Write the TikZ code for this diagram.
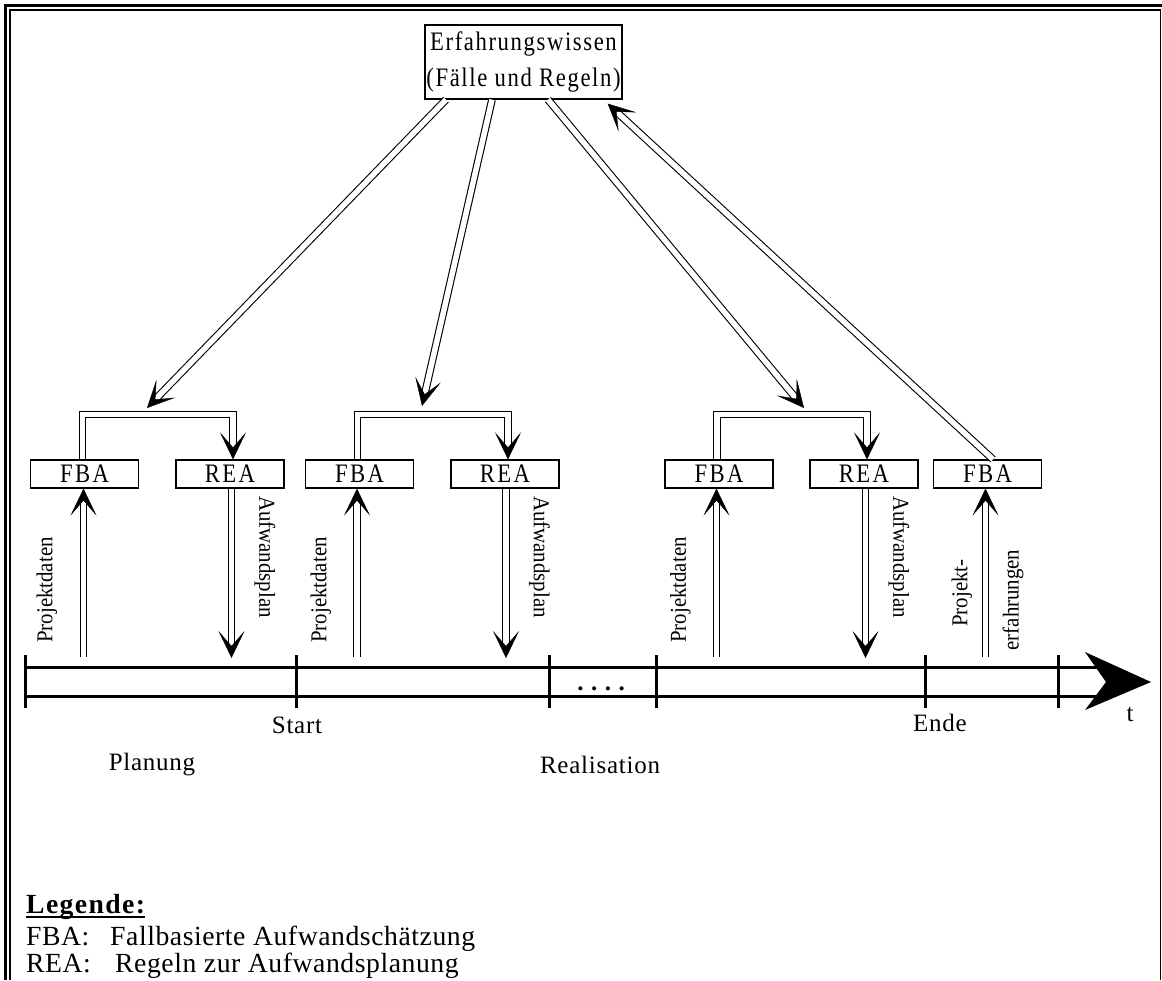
\documentclass[tikz,border=0pt]{standalone}
\usepackage{fontspec}
\setmainfont{Liberation Serif}
\newfontfamily\condfont{Liberation Serif}[FakeStretch=0.85]
\newfontfamily\semifont{Liberation Serif}[FakeStretch=0.92]
\usetikzlibrary{arrows.meta,calc}
\newcommand{\lsp}[1]{\addfontfeatures{LetterSpace=#1}}
\begin{document}
\begin{tikzpicture}[x=1pt,y=-1pt,
  box/.style={draw, line width=1.2pt, minimum width=108pt, minimum height=28pt, inner sep=0pt, font=\condfont\fontsize{26.7}{30}\selectfont\lsp{9}},
  dbl/.style={double, double distance=5.5pt, line width=1.1pt},
  hd/.style={-{Stealth[length=27pt,width=26pt,inset=15pt,line width=0.4pt]}},
  vlab/.style={font=\semifont\fontsize{22.7}{26}\selectfont, inner sep=0pt},
  tlab/.style={font=\fontsize{25}{28}\selectfont\lsp{3}, inner sep=0pt, anchor=base},
  leg/.style={font=\fontsize{27.7}{32}\selectfont\lsp{2}, inner sep=0pt, anchor=base west},
  tline/.style={line width=3pt},
]
\useasboundingbox (0,0) rectangle (1162,980);
% frame
\draw[line width=3pt] (5,980) -- (5,5) -- (1162,5);
\draw[line width=1.5pt] (10,980) -- (10,10) -- (1160.5,10) -- (1160.5,980);

% top box
\node[draw, line width=1.2pt, minimum width=197pt, minimum height=74pt, inner sep=0pt, align=center,
      font=\condfont\fontsize{26.7}{36}\selectfont\lsp{6}] (EW) at (523.5,62) {Erfahrungswissen\\(Fälle und Regeln)};

% boxes
\node[box] (FBA1) at (84.5,474) {FBA};
\node[box] (REA1) at (230,474) {REA};
\node[box] (FBA2) at (359.5,474) {FBA};
\node[box] (REA2) at (505,474) {REA};
\node[box] (FBA3) at (719,474) {FBA};
\node[box] (REA3) at (864,474) {REA};
\node[box] (FBA4) at (987.5,474) {FBA};

% brackets
\coordinate (brk) at (0,414.5);
\coordinate (b1l) at ([xshift=-2pt]FBA1.north);
\coordinate (b1r) at ([xshift=3pt]REA1.north);
\coordinate (b2l) at ([xshift=-2pt]FBA2.north);
\coordinate (b2r) at ([xshift=3pt]REA2.north);
\coordinate (b3l) at ([xshift=-2pt]FBA3.north);
\coordinate (b3r) at ([xshift=3pt]REA3.north);
\draw[dbl,hd] (b1l) -- (b1l |- brk) -- (b1r |- brk) -- (b1r);
\draw[dbl,hd] (b2l) -- (b2l |- brk) -- (b2r |- brk) -- (b2r);
\draw[dbl,hd] (b3l) -- (b3l |- brk) -- (b3r |- brk) -- (b3r);

% arrows from / to knowledge box
\coordinate (j1) at (147,408);
\coordinate (j2) at (422,406);
\coordinate (j3) at (804,408);
\draw[dbl,hd] ([xshift=-77.5pt]EW.south) -- (j1);
\draw[dbl,hd] ([xshift=-31.5pt]EW.south) -- (j2);
\draw[dbl,hd] ([xshift=24.5pt]EW.south) -- (j3);
\draw[dbl,hd] ([xshift=5.5pt]FBA4.north) -- ([xshift=-15pt,yshift=-4pt]EW.south east);

% timeline
\coordinate (tk0) at (25,682);
\coordinate (tk1) at (296,682);
\coordinate (tk2) at (549,682);
\coordinate (tk3) at (656,682);
\coordinate (tk4) at (925,682);
\coordinate (tk5) at (1058,682);
\coordinate (tip) at (1151,682);
\draw[tline] (25,667) -- (1100,667);
\draw[tline] (25,696) -- (1100,696);
\foreach \k in {tk0,tk1,tk2,tk3,tk4,tk5} \draw[tline] ([yshift=27pt]\k) -- ([yshift=-26pt]\k);
\fill (tip) -- (1085,652) -- (1106,682) -- (1085,710) -- cycle;

% vertical arrows
\coordinate (pd1) at (83.5,657);
\coordinate (pd2) at (357,657);
\coordinate (pd3) at (716.5,657);
\coordinate (ap1) at (231.5,658);
\coordinate (ap2) at (506,658);
\coordinate (ap3) at (865.5,658);
\coordinate (pe) at (985.5,657);
\draw[dbl,hd] (pd1) -- (pd1 |- FBA1.south);
\draw[dbl,hd] (pd2) -- (pd2 |- FBA2.south);
\draw[dbl,hd] (pd3) -- (pd3 |- FBA3.south);
\draw[dbl,hd] (ap1 |- REA1.south) -- (ap1);
\draw[dbl,hd] (ap2 |- REA2.south) -- (ap2);
\draw[dbl,hd] (ap3 |- REA3.south) -- (ap3);
\draw[dbl,hd] (pe) -- (pe |- FBA4.south);

% vertical labels
\node[vlab, rotate=90] (lpd1) at (47,590) {Projektdaten};
\node[vlab, rotate=90] (lpd2) at (321,590) {Projektdaten};
\node[vlab, rotate=90] (lpd3) at (680.5,590) {Projektdaten};
\node[vlab, rotate=-90] (lap1) at (265,557) {Aufwandsplan};
\node[vlab, rotate=-90] (lap2) at (539.5,557) {Aufwandsplan};
\node[vlab, rotate=-90] (lap3) at (899,557) {Aufwandsplan};
\node[vlab, rotate=90] (lpe1) at (962,593) {Projekt-};
\node[vlab, rotate=90] (lpe2) at (1013,600) {erfahrungen};

% timeline labels
\node[tlab] (start) at (297,733) {Start};
\node[tlab] (ende) at (940,731) {Ende};
\node[tlab] (tt) at (1130,721) {t};
\node[tlab] (plan) at (152,770) {Planung};
\node[tlab] (real) at (600,773) {Realisation};
\node[tlab, font=\fontsize{25}{28}\selectfont\bfseries\lsp{30}] (dots) at (601,690) {....};

% legend
\node[leg, font=\fontsize{27.7}{32}\selectfont\bfseries\lsp{5}] (lg) at (26,913) {Legende:};
\draw[line width=1.6pt] ([yshift=-4pt]lg.base west) -- ([yshift=-4pt]lg.base east);
\node[leg] (f1) at (26,945) {FBA:};
\node[leg] (f2) at (110,945) {Fallbasierte Aufwandschätzung};
\node[leg] (r1) at (26,972) {REA:};
\node[leg] (r2) at (115,972) {Regeln zur Aufwandsplanung};
\end{tikzpicture}
\end{document}
